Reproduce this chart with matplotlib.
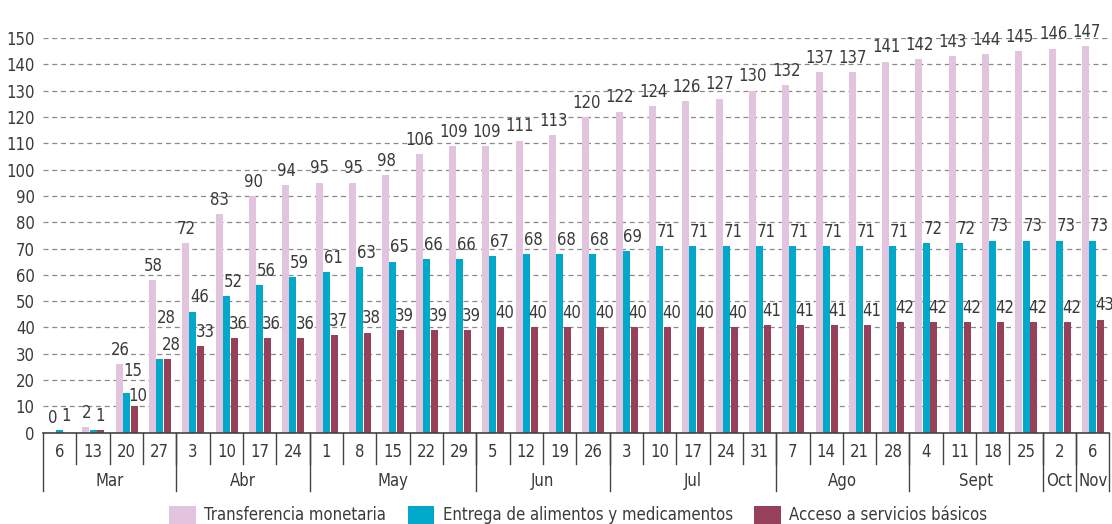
import matplotlib
matplotlib.use('Agg')
import matplotlib.pyplot as plt
from matplotlib import font_manager
from matplotlib.patches import Patch
import numpy as np

# week labels and the month each week belongs to
days = ['6', '13', '20', '27', '3', '10', '17', '24', '1', '8', '15', '22', '29',
        '5', '12', '19', '26', '3', '10', '17', '24', '31', '7', '14', '21', '28',
        '4', '11', '18', '25', '2', '6']
months = ['Mar', 'Abr', 'May', 'Jun', 'Jul', 'Ago', 'Sept', 'Oct', 'Nov']
month_weeks = [4, 4, 5, 4, 5, 4, 4, 1, 1]

transferencia = [0, 2, 26, 58, 72, 83, 90, 94, 95, 95, 98, 106, 109, 109, 111, 113,
                 120, 122, 124, 126, 127, 130, 132, 137, 137, 141, 142, 143, 144, 145, 146, 147]
alimentos = [1, 1, 15, 28, 46, 52, 56, 59, 61, 63, 65, 66, 66, 67, 68, 68,
             68, 69, 71, 71, 71, 71, 71, 71, 71, 71, 72, 72, 73, 73, 73, 73]
servicios = [0, 1, 10, 28, 33, 36, 36, 36, 37, 38, 39, 39, 39, 40, 40, 40,
             40, 40, 40, 40, 40, 41, 41, 41, 41, 42, 42, 42, 42, 42, 42, 43]

series_names = ['Transferencia monetaria', 'Entrega de alimentos y medicamentos',
                'Acceso a servicios básicos']
colors = ['#E2C4DF', '#00A9C9', '#97405A']

# condensed font if one is installed
fonts = font_manager.fontManager.ttflist
names = {f.name for f in fonts}
if 'Liberation Sans Narrow' in names:
    plt.rcParams['font.family'] = ['Liberation Sans Narrow', 'DejaVu Sans']
else:
    plt.rcParams['font.family'] = ['DejaVu Sans']
    if any(f.name == 'DejaVu Sans' and f.stretch == 'condensed' for f in fonts):
        plt.rcParams['font.stretch'] = 'condensed'
txt_color = '#3a3a3a'
fs = 12

fig = plt.figure(figsize=(11.12, 5.24), dpi=100)
ax = fig.add_axes([0.0387, 0.1742, 0.959, 0.7532])

x = np.arange(len(days))
w = 0.21
offsets = [-0.215, 0.0, 0.235]
label_shift = [0.02, 0.2, 0.12]
data = [transferencia, alimentos, servicios]

for vals, off, c in zip(data, offsets, colors):
    ax.bar(x + off, vals, width=w, color=c, zorder=3)

# value labels
for k, (vals, off) in enumerate(zip(data, offsets)):
    for i, v in enumerate(vals):
        if k == 2 and i < 2:
            continue
        y = v + 2
        if k == 1 and i == 3:
            y = v + 12  # reference lifts this one above its neighbour
        if k == 1 and i == 2:
            y = v + 5
        if k == 2 and i == 2:
            y = v + 0.5
        ax.text(i + off + label_shift[k], y, str(v), ha='center', va='bottom',
                fontsize=fs, color=txt_color, clip_on=False, zorder=4)

ax.set_xlim(-0.5, len(days) - 0.5)
ax.set_ylim(0, 150)
ax.set_yticks(range(0, 151, 10))
ax.tick_params(axis='y', length=0, labelsize=fs, labelcolor=txt_color, pad=6)
ax.set_xticks([])
ax.yaxis.grid(True, linestyle=(0, (4, 3)), color='#8a8a8a', linewidth=0.9, zorder=0)
for s in ['top', 'right', 'left']:
    ax.spines[s].set_visible(False)
ax.spines['bottom'].set_color('#444444')
ax.spines['bottom'].set_linewidth(1.2)
ax.spines['bottom'].set_zorder(5)

# two-level category axis
tr = ax.get_xaxis_transform()
for i, d in enumerate(days):
    ax.text(i, -0.05, d, transform=tr, ha='center', va='center',
            fontsize=fs, color=txt_color)
for i in range(1, len(days)):
    ax.plot([i - 0.5, i - 0.5], [0, -0.078], transform=tr, color='#444444',
            linewidth=1, clip_on=False)
start = 0
bounds = [start]
for m, n in zip(months, month_weeks):
    ax.text(start + n / 2 - 0.5, -0.123, m, transform=tr, ha='center', va='center',
            fontsize=fs, color=txt_color)
    start += n
    bounds.append(start)
for b in bounds:
    ax.plot([b - 0.5, b - 0.5], [0, -0.148], transform=tr, color='#444444',
            linewidth=1, clip_on=False)

handles = [Patch(facecolor=c, edgecolor='none') for c in colors]
fig.legend(handles, series_names, loc='center', bbox_to_anchor=(0.52, 0.017),
           ncol=3, frameon=False, fontsize=fs, handlelength=1.6, handleheight=1.3,
           columnspacing=1.3, handletextpad=0.5, labelcolor=txt_color)

fig.savefig('out.png', dpi=100)
